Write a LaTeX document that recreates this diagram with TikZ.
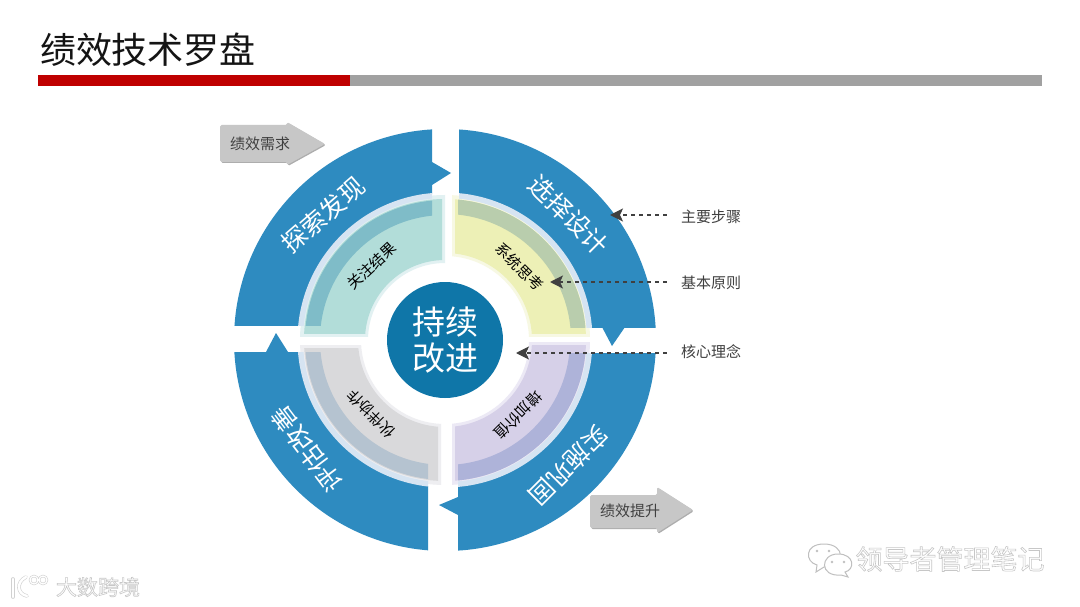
\documentclass[tikz,border=0pt]{standalone}
\usepackage{fontspec}
\usetikzlibrary{arrows.meta}
\newfontfamily\cjk{Noto Sans CJK SC}
\definecolor{ringblue}{HTML}{2E8BC0}
\definecolor{corecol}{HTML}{0F76A8}
\definecolor{palearc}{HTML}{D6E4F2}
\definecolor{tealF}{HTML}{B2DDD9}\definecolor{tealB}{HTML}{7FBCC8}\definecolor{tealH}{HTML}{E2F1F2}
\definecolor{yelF}{HTML}{EDF0B6}\definecolor{yelB}{HTML}{B9CDAD}\definecolor{yelH}{HTML}{F7F8E3}
\definecolor{purF}{HTML}{D6D0E8}\definecolor{purB}{HTML}{AEB3D9}\definecolor{purH}{HTML}{ECE9F5}
\definecolor{gryF}{HTML}{D9D9DB}\definecolor{gryB}{HTML}{B5C3D0}\definecolor{gryH}{HTML}{EEEEF1}
\definecolor{txtgray}{HTML}{404040}
\tikzset{
  outerword/.style={text=white,inner sep=0pt,font=\cjk\fontsize{25}{25}\selectfont},
  innerword/.style={text=black,inner sep=0pt,font=\cjk\fontsize{15}{15}\selectfont},
  sidelabel/.style={text=txtgray,inner sep=0pt,font=\cjk\fontsize{15}{15}\selectfont},
  leader/.style={draw=txtgray,line width=1.2pt,dash pattern=on 4pt off 4pt,-{Stealth[length=13pt,width=13pt,inset=3pt]}},
  grayarrow/.style={fill=black!22,draw=none,rounded corners=1.5pt},
  grayshadow/.style={fill=black!32,draw=none,rounded corners=1.5pt},
  watermark/.style={text=black!20,inner sep=0pt},
}
% colour, inner radius, outer radius, rectangle corners (relative to wheel centre)
\newcommand\ringpart[7]{%
  \begin{scope}
    \clip (#4,#5) rectangle (#6,#7);
    \fill[#1,even odd rule] (0,0) circle[radius=#3pt] (0,0) circle[radius=#2pt];
  \end{scope}}
\newcommand\logostrokes[2]{%
  \draw[#1,line width=#2+1.2pt,line cap=round] (13,579) -- (13,597);
  \draw[#1,line width=#2+1.2pt,line cap=round] (26,577) .. controls (16,582) and (17,594) .. (27,596);
  \draw[#1,line width=#2] (34,580) circle[radius=4pt] (43,580) circle[radius=4pt];}
\begin{document}
\begin{tikzpicture}[x=1pt,y=-1pt]
\useasboundingbox (0,0) rectangle (1080,607);
\fill[white] (0,0) rectangle (1080,607);
% title
\node[inner sep=0pt,anchor=center,text=black!92,font=\cjk\fontsize{36}{36}\selectfont] (title) at (148,50) {绩效技术罗盘};
\fill[black!37] (350,75) rectangle (1042,86);
\fill[red!75!black] (38,75) rectangle (350,86);
% wheel
\begin{scope}[shift={(445pt,-340pt)},y=1pt]
  \ringpart{ringblue}{147}{211}{-300}{15}{-13}{300}
  \ringpart{ringblue}{147}{211}{14}{13}{300}{300}
  \ringpart{ringblue}{147}{211}{13}{-13}{300}{-300}
  \ringpart{ringblue}{147}{211}{-17}{-12}{-300}{-300}
  \fill[ringblue] (-13,178) -- (6,167) -- (-13,155) -- cycle;
  \fill[ringblue] (157,13) -- (167,-6) -- (180,13) -- cycle;
  \fill[ringblue] (13,-157) -- (-6,-165) -- (13,-175) -- cycle;
  \fill[ringblue] (-179,-12) -- (-169,7) -- (-157,-12) -- cycle;
  % pale halos
  \ringpart{tealH}{77}{145}{-300}{4}{0}{300}
  \ringpart{yelH}{84}{145}{7}{4}{300}{300}
  \ringpart{purH}{84}{145}{7}{-2}{300}{-300}
  \ringpart{gryH}{84}{145}{-4}{-5}{-300}{-300}
  \ringpart{palearc}{142}{147.5}{-300}{15}{-13}{300}
  \ringpart{palearc}{142}{147.5}{14}{13}{300}{300}
  \ringpart{palearc}{142}{147.5}{13}{-13}{300}{-300}
  \ringpart{palearc}{142}{147.5}{-17}{-12}{-300}{-300}
  % quadrants
  \ringpart{tealF}{80}{141}{-300}{7}{-3}{300}
  \ringpart{yelF}{87}{141}{10}{7}{300}{300}
  \ringpart{purF}{87}{141}{10}{-5}{300}{-300}
  \ringpart{gryF}{87}{141}{-7}{-8}{-300}{-300}
  \ringpart{tealB}{125}{140}{-300}{15}{-13}{300}
  \ringpart{yelB}{126}{141}{13}{13}{300}{300}
  \ringpart{purB}{125}{141}{13}{-13}{300}{-300}
  \ringpart{gryB}{125}{140}{-17}{-12}{-300}{-300}
  % core
  \fill[corecol] (0,0) circle[radius=58pt];
  \node[inner sep=0pt,align=center,text=white,font=\cjk\fontsize{33}{36}\selectfont] (core) at (0,0) {持续\\改进};
  % words
  \node[outerword,rotate=41] (oa) at (-122,125) {探索发现};
  \node[outerword,rotate=-45] (ob) at (124,125) {选择设计};
  \node[outerword,rotate=-135] (oc) at (124,-126) {实施巩固};
  \node[outerword,rotate=127] (od) at (-138,-109) {评估改善};
  \node[innerword,rotate=43] (ia) at (-73,74) {关注结果};
  \node[innerword,rotate=-45] (ib) at (74.5,73) {系统思考};
  \node[innerword,rotate=-135] (ic) at (73,-75) {增加价值};
  \node[innerword,rotate=135] (id) at (-74,-74) {伙伴协作};
\end{scope}
% grey arrows
\foreach \dx/\dy/\st in {1/1/grayshadow,0/0/grayarrow}{
  \fill[\st,shift={(\dx pt,-\dy pt)}] (220,125) -- (287,125) -- (287,122) -- (325,144) -- (287,165) -- (287,162) -- (220,162) -- cycle;
  \fill[\st,shift={(\dx pt,-\dy pt)}] (590,495) -- (657,495) -- (657,487) -- (693,510) -- (657,533) -- (657,528) -- (590,528) -- cycle;
}
\node[sidelabel] (need) at (260,144) {绩效需求};
\node[sidelabel] (lift) at (630,511) {绩效提升};
% side labels and leaders
\node[sidelabel] (step) at (711,217) {主要步骤};
\node[sidelabel] (rule) at (711,283) {基本原则};
\node[sidelabel] (idea) at (711,352) {核心理念};
\coordinate (tipa) at (610,215);
\coordinate (tipb) at (550,282);
\coordinate (tipc) at (516,353);
\draw[leader,shorten <=14pt] (step.west |- tipa) -- (tipa);
\draw[leader,shorten <=14pt] (rule.west |- tipb) -- (tipb);
\draw[leader,shorten <=14pt] (idea.west |- tipc) -- (tipc);
% watermarks
\node[watermark,font=\cjk\fontsize{21}{21}\selectfont] (wm) at (98,587) {\special{pdf:code 2 Tr 0.6 w 0.78 G 1 g}大数跨境\special{pdf:code 0 Tr}};
\logostrokes{black!18}{2.4pt}
\logostrokes{white}{1.2pt}
\node[watermark,font=\cjk\fontsize{27}{27}\selectfont] (wx) at (950,559) {\special{pdf:code 2 Tr 0.6 w 0.78 G 1 g}领导者管理笔记\special{pdf:code 0 Tr}};
\draw[black!25,line width=1pt,fill=white] (817,565) -- (816,572) -- (824,567) .. controls (846,567) and (846,544) .. (824,544) .. controls (804,544) and (805,562) .. (817,565) -- cycle;
\draw[black!25,line width=1pt,fill=white] (845,572) -- (848,577) -- (841,575) .. controls (819,577) and (820,554) .. (838,554) .. controls (855,554) and (855,570) .. (845,572) -- cycle;
\fill[black!25] (817,551) circle[radius=1.3pt] (829,551) circle[radius=1.3pt] (832,562) circle[radius=1.3pt] (844,562) circle[radius=1.3pt];
\end{tikzpicture}
\end{document}
